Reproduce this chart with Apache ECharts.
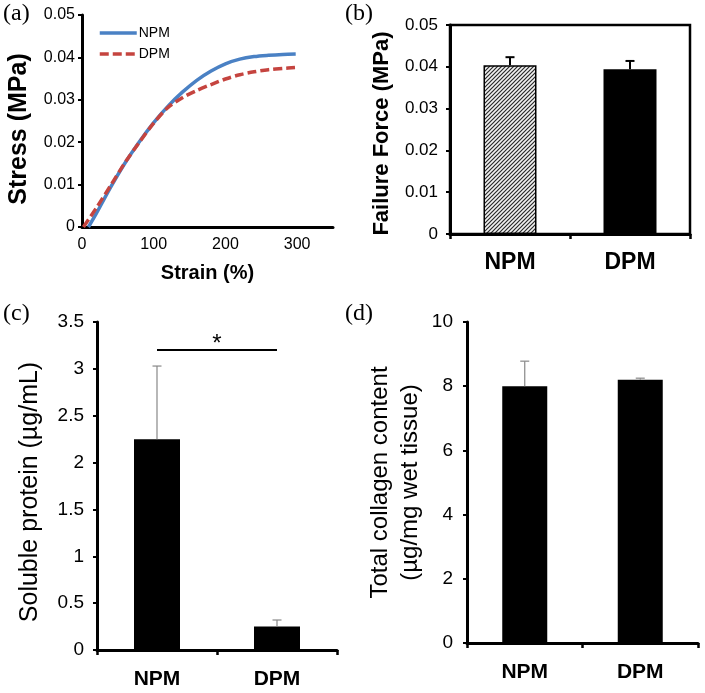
<!DOCTYPE html>
<html>
<head>
<meta charset="utf-8">
<script src="https://cdn.jsdelivr.net/npm/echarts@6/dist/echarts.min.js"></script>
<style>
  html, body { margin: 0; padding: 0; background: #fff; }
  #main { width: 705px; height: 693px; }
</style>
</head>
<body>
<div id="main"></div>
<script>
// (a) stress-strain curves: [strain %, stress MPa]
var npmCurve = [[9, 0], [20, 0.0032], [40, 0.0094], [60, 0.0151], [80, 0.0201], [100, 0.0246],
  [120, 0.0285], [140, 0.0318], [160, 0.0346], [180, 0.0368], [200, 0.0385], [220, 0.0396],
  [240, 0.0402], [260, 0.0405], [280, 0.0407], [298, 0.0408]];
var dpmCurve = [[2, 0], [20, 0.0045], [40, 0.0098], [60, 0.0152], [80, 0.02], [100, 0.0245],
  [120, 0.0282], [140, 0.0305], [160, 0.0322], [180, 0.0336], [200, 0.0349], [220, 0.0359],
  [240, 0.0366], [260, 0.0371], [280, 0.0374], [297, 0.0376]];

var groups = ['NPM', 'DPM'];
// (b) failure force
var failureMean = [0.0404, 0.0394];
var failureErr = [0.0019, 0.002];
// (c) soluble protein
var proteinMean = [2.25, 0.25];
var proteinErr = [0.78, 0.07];
var sigLevel = 3.2;
// (d) total collagen
var collagenMean = [8.0, 8.2];
var collagenErr = [0.78, 0.05];

var font = 'Liberation Sans';

var myChart = echarts.init(document.getElementById('main'));

// hatch for NPM bar in (b)
var hatch = document.createElement('canvas');
hatch.width = 4; hatch.height = 4;
var ctx = hatch.getContext('2d');
ctx.fillStyle = '#f2f2f2';
ctx.fillRect(0, 0, 4, 4);
ctx.strokeStyle = '#2a2a2a';
ctx.lineWidth = 1.2;
ctx.beginPath();
ctx.moveTo(0, 4); ctx.lineTo(4, 0);
ctx.moveTo(-1, 1); ctx.lineTo(1, -1);
ctx.moveTo(3, 5); ctx.lineTo(5, 3);
ctx.stroke();

function errData(mean, err) {
  return mean.map(function (m, i) { return [i, m, m + err[i]]; });
}

function errorBars(color, width) {
  return function (params, api) {
    var x = api.value(0);
    var p0 = api.coord([x, api.value(1)]);
    var p1 = api.coord([x, api.value(2)]);
    var st = { stroke: color, lineWidth: width };
    return {
      type: 'group',
      children: [
        { type: 'line', shape: { x1: p0[0], y1: p0[1], x2: p1[0], y2: p1[1] }, style: st },
        { type: 'line', shape: { x1: p1[0] - 4.5, y1: p1[1], x2: p1[0] + 4.5, y2: p1[1] }, style: st }
      ]
    };
  };
}

function valAxis(idx, max, interval, labelSize, margin, name, nameStyle, nameGap) {
  return {
    type: 'value', gridIndex: idx, min: 0, max: max, interval: interval,
    axisLine: { show: true, lineStyle: { color: '#000', width: 3 } },
    axisTick: { show: true, length: 4, lineStyle: { color: '#000', width: 2 } },
    axisLabel: { color: '#000', fontSize: labelSize, fontFamily: font, margin: margin },
    splitLine: { show: false },
    name: name, nameLocation: 'middle', nameGap: nameGap,
    nameTextStyle: nameStyle
  };
}

function catAxis(idx, labelSize, margin) {
  return {
    type: 'category', gridIndex: idx, data: groups,
    axisLine: { show: true, lineStyle: { color: '#000', width: 3 } },
    axisTick: { show: true, length: 5, lineStyle: { color: '#000', width: 2.5 } },
    axisLabel: { color: '#000', fontSize: labelSize, fontWeight: 'bold', fontFamily: font, margin: margin }
  };
}

option = {
  backgroundColor: '#fff',
  animation: false,
  title: [
    { text: '(a)', left: 3, top: 2 },
    { text: '(b)', left: 345, top: 2 },
    { text: '(c)', left: 3, top: 302 },
    { text: '(d)', left: 345, top: 302 }
  ].map(function (t) {
    t.textStyle = { fontFamily: 'Liberation Serif', fontWeight: 'normal', fontSize: 24, color: '#000' };
    t.padding = 0;
    return t;
  }),
  legend: {
    data: ['NPM', 'DPM'],
    orient: 'vertical',
    left: 98, top: 26, padding: 0,
    itemWidth: 37, itemHeight: 14, itemGap: 7,
    itemStyle: { opacity: 0 },
    lineStyle: { width: 3.5 },
    textStyle: { fontFamily: font, fontSize: 14, color: '#000', padding: [0, 0, 0, -3] }
  },
  grid: [
    { left: 82, top: 15, width: 251, height: 212 },
    { left: 450, top: 25, width: 240, height: 209, show: true, borderColor: '#000', borderWidth: 2.5 },
    { left: 97, top: 322, width: 240, height: 328 },
    { left: 467, top: 322, width: 231, height: 321 }
  ],
  xAxis: [
    {
      type: 'value', gridIndex: 0, min: 0, max: 350, interval: 100,
      axisLine: { show: true, lineStyle: { color: '#000', width: 3 } },
      axisTick: { show: false },
      axisLabel: { color: '#000', fontSize: 16, fontFamily: font, margin: 10, showMaxLabel: false },
      splitLine: { show: false },
      name: 'Strain (%)', nameLocation: 'middle', nameGap: 36,
      nameTextStyle: { color: '#000', fontSize: 20, fontWeight: 'bold', fontFamily: font }
    },
    catAxis(1, 23, 17),
    catAxis(2, 21, 19),
    catAxis(3, 21, 19)
  ],
  yAxis: [
    valAxis(0, 0.05, 0.01, 16, 7, 'Stress (MPa)',
      { color: '#000', fontSize: 25, fontWeight: 'bold', fontFamily: font, padding: [0, 16, 0, 0] }, 50),
    valAxis(1, 0.05, 0.01, 17, 12, 'Failure Force (MPa)',
      { color: '#000', fontSize: 22, fontWeight: 'bold', fontFamily: font, padding: [0, 8, 0, 0] }, 57),
    valAxis(2, 3.5, 0.5, 19, 13, 'Soluble protein (µg/mL)',
      { color: '#000', fontSize: 25, fontFamily: font, padding: [0, 12, 0, 0] }, 54),
    valAxis(3, 10, 2, 19, 14, 'Total collagen content\n(µg/mg wet tissue)',
      { color: '#000', fontSize: 24, lineHeight: 30, fontFamily: font }, 42)
  ],
  series: [
    {
      name: 'NPM', type: 'line', xAxisIndex: 0, yAxisIndex: 0,
      data: npmCurve, smooth: 0.3, symbol: 'none',
      lineStyle: { color: '#4a81c4', width: 3.5 }, itemStyle: { color: '#4a81c4' }
    },
    {
      name: 'DPM', type: 'line', xAxisIndex: 0, yAxisIndex: 0,
      data: dpmCurve, smooth: 0.3, symbol: 'none',
      lineStyle: { color: '#c5443f', width: 3.5, type: [9, 4] }, itemStyle: { color: '#c5443f' }
    },
    {
      type: 'bar', xAxisIndex: 1, yAxisIndex: 1, barWidth: 53,
      data: [
        { value: failureMean[0], itemStyle: { color: { image: hatch, repeat: 'repeat' }, borderColor: '#000', borderWidth: 1.5 } },
        { value: failureMean[1], itemStyle: { color: '#000' } }
      ]
    },
    {
      type: 'custom', xAxisIndex: 1, yAxisIndex: 1,
      data: errData(failureMean, failureErr), renderItem: errorBars('#000', 2), z: 5
    },
    {
      type: 'bar', xAxisIndex: 2, yAxisIndex: 2, barWidth: 46,
      itemStyle: { color: '#000' }, data: proteinMean,
      markLine: {
        silent: true, symbol: 'none',
        lineStyle: { color: '#000', width: 2, type: 'solid' },
        label: { show: true, position: 'middle', formatter: '*', color: '#000', fontSize: 24, fontFamily: font, distance: -6 },
        data: [[{ coord: ['NPM', sigLevel] }, { coord: ['DPM', sigLevel] }]]
      }
    },
    {
      type: 'custom', xAxisIndex: 2, yAxisIndex: 2,
      data: errData(proteinMean, proteinErr), renderItem: errorBars('#888', 1.2), z: 5
    },
    {
      type: 'bar', xAxisIndex: 3, yAxisIndex: 3, barWidth: 45,
      itemStyle: { color: '#000' }, data: collagenMean
    },
    {
      type: 'custom', xAxisIndex: 3, yAxisIndex: 3,
      data: errData(collagenMean, collagenErr), renderItem: errorBars('#888', 1.2), z: 5
    }
  ]
};

myChart.setOption(option);
</script>
</body>
</html>
